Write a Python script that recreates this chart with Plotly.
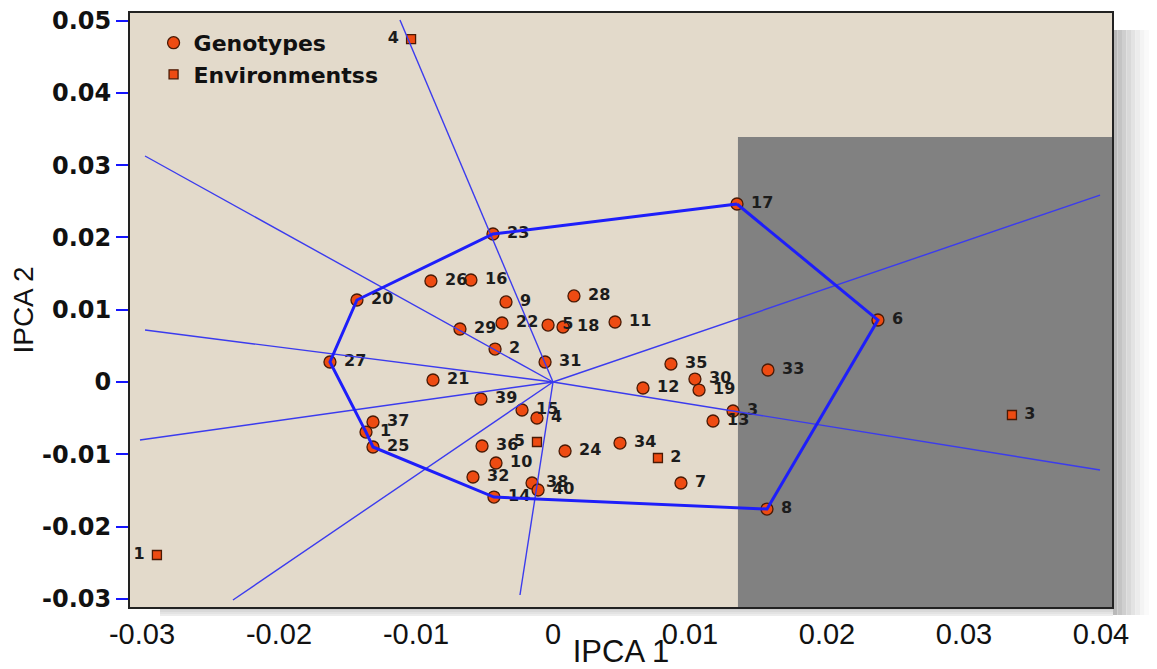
import plotly.graph_objects as go

# ---------------- data ----------------
geno_labels = ["17", "23", "6", "20", "26", "16", "9", "28", "29", "22",
               "5", "18", "11", "2", "27", "31", "35", "33", "21", "30",
               "12", "19", "39", "3", "15", "4", "13", "37", "1", "25",
               "36", "24", "34", "10", "32", "7", "38", "40", "14", "8"]
geno_x = [0.01343, -0.00438, 0.02372, -0.01431, -0.00891, -0.00599, -0.00343, 0.00153, -0.00679, -0.00372,
          -0.00036, 0.00073, 0.00453, -0.00423, -0.01628, -0.00058, 0.00861, 0.01569, -0.00876, 0.01036,
          0.00657, 0.01066, -0.00526, 0.01314, -0.00226, -0.00117, 0.01168, -0.01314, -0.01365, -0.01314,
          -0.00518, 0.00088, 0.00489, -0.00416, -0.00584, 0.00934, -0.00153, -0.00109, -0.00431, 0.01562]
geno_y = [0.02462, 0.02047, 0.00858, 0.01134, 0.01397, 0.01411, 0.01107, 0.01190, 0.00733, 0.00816,
          0.00788, 0.00761, 0.00830, 0.00456, 0.00277, 0.00277, 0.00249, 0.00166, 0.00028, 0.00041,
          -0.00083, -0.00111, -0.00235, -0.00401, -0.00387, -0.00498, -0.00539, -0.00553, -0.00692, -0.00899,
          -0.00885, -0.00954, -0.00844, -0.01120, -0.01314, -0.01397, -0.01397, -0.01494, -0.01591, -0.01757]

env_labels = ["1", "2", "3", "4", "5"]
env_x = [-0.02891, 0.00766, 0.03350, -0.01036, -0.00117]
env_y = [-0.02393, -0.01051, -0.00456, 0.04744, -0.00830]

# polygon (convex hull) vertices, by genotype label
hull_labels = ["17", "6", "8", "14", "25", "1", "27", "20", "23", "17"]

# end points of the rays drawn from the origin
ray_end_x = [-0.01117, -0.02978, -0.02978, -0.03015, -0.02336, -0.00241, 0.03993, 0.03993]
ray_end_y = [0.05007, 0.03126, 0.00719, -0.00802, -0.03015, -0.02946, -0.01217, 0.02586]

# shaded region (lower-left corner of the grey box)
shade_x0 = 0.0135
shade_y1 = 0.0339

x_tick_vals = [-0.03, -0.02, -0.01, 0, 0.01, 0.02, 0.03, 0.04]
x_tick_text = ["-0.03", "-0.02", "-0.01", "0", "0.01", "0.02", "0.03", "0.04"]
y_tick_vals = [-0.03, -0.02, -0.01, 0, 0.01, 0.02, 0.03, 0.04, 0.05]
y_tick_text = ["-0.03", "-0.02", "-0.01", "0", "0.01", "0.02", "0.03", "0.04", "0.05"]

x_range = [-0.030876, 0.040803]
y_range = [-0.03112, 0.05104]

# ---------------- styling ----------------
ORANGE = "#EE4B12"
EDGE = "#4A1A05"
RAY_BLUE = "#3B3BEE"
HULL_BLUE = "#1E1EFA"
BOLD = "DejaVu Sans"
PAD = "\u00a0"

env_textpos = ["middle left", "middle right", "middle right", "middle left", "middle left"]
env_text = [(l + PAD) if p == "middle left" else (PAD + l) for l, p in zip(env_labels, env_textpos)]

fig = go.Figure()

fig.add_trace(go.Scatter(
    x=geno_x, y=geno_y, mode="markers+text", name="Genotypes",
    text=[PAD + l for l in geno_labels], textposition="middle right",
    textfont=dict(family=BOLD, size=16, color="#1c1c1c", weight="bold"),
    marker=dict(symbol="circle", size=12, color=ORANGE, line=dict(color=EDGE, width=1.3)),
    cliponaxis=False,
))

fig.add_trace(go.Scatter(
    x=env_x, y=env_y, mode="markers+text", name="Environmentss",
    text=env_text, textposition=env_textpos,
    textfont=dict(family=BOLD, size=16, color="#1c1c1c", weight="bold"),
    marker=dict(symbol="square", size=9, color=ORANGE, line=dict(color=EDGE, width=1.3)),
    cliponaxis=False,
))

# rays
rx, ry = [], []
for ex, ey in zip(ray_end_x, ray_end_y):
    rx += [0, ex, None]
    ry += [0, ey, None]
fig.add_trace(go.Scatter(x=rx, y=ry, mode="lines", showlegend=False,
                         line=dict(color=RAY_BLUE, width=1.4), hoverinfo="skip"))

# hull polygon
lookup = {lab: (gx, gy) for lab, gx, gy in zip(geno_labels, geno_x, geno_y)}
hx = [lookup[l][0] for l in hull_labels]
hy = [lookup[l][1] for l in hull_labels]
fig.add_trace(go.Scatter(x=hx, y=hy, mode="lines", showlegend=False,
                         line=dict(color=HULL_BLUE, width=3), hoverinfo="skip"))

shapes = [
    dict(type="rect", xref="x", yref="y", x0=shade_x0, x1=x_range[1], y0=y_range[0], y1=shade_y1,
         fillcolor="#818181", line=dict(width=0), layer="below"),
]
# drop shadow to the right of / below the frame
shadow_cols = ["#b9b9b9", "#c4c4c4", "#cfcfcf", "#d9d9d9", "#e3e3e3", "#ececec", "#f4f4f4", "#fafafa"]
pw, ph = 982.0, 594.0
for i, c in enumerate(shadow_cols):
    shapes.append(dict(type="rect", xref="paper", yref="paper",
                       x0=1 + (1 + 4.5 * i) / pw, x1=1 + (1 + 4.5 * (i + 1)) / pw,
                       y0=-8 / ph, y1=1 - 17 / ph,
                       fillcolor=c, line=dict(width=0), layer="below"))
for i, c in enumerate(shadow_cols[2:6]):
    shapes.append(dict(type="rect", xref="paper", yref="paper",
                       x0=30 / pw, x1=1 + 1 / pw,
                       y0=-(1 + 2 * (i + 1)) / ph, y1=-(1 + 2 * i) / ph,
                       fillcolor=c, line=dict(width=0), layer="below"))

# the page body adds an 8px offset, so the figure is 8px smaller with 8px less left/top margin
fig.update_layout(
    width=1149, height=661,
    margin=dict(l=122, r=45, t=5, b=62, autoexpand=False),
    paper_bgcolor="white",
    plot_bgcolor="#E3DACB",
    shapes=shapes,
    showlegend=True,
    legend=dict(x=0.024, y=0.985, xanchor="left", yanchor="top",
                bgcolor="rgba(0,0,0,0)", borderwidth=0,
                font=dict(family=BOLD, size=22, color="#111", weight="bold"),
                tracegroupgap=2, itemwidth=30),
    xaxis=dict(range=x_range, tickvals=x_tick_vals, ticktext=x_tick_text,
               showgrid=False, zeroline=False, showline=True, mirror=True,
               linecolor="#222", linewidth=2, ticks="",
               tickfont=dict(family="Liberation Sans", size=29, color="#111"),
               title=dict(text="IPCA 1", standoff=0,
                          font=dict(family="Liberation Sans", size=31, color="#111"))),
    yaxis=dict(range=y_range, tickvals=y_tick_vals, ticktext=y_tick_text,
               showgrid=False, zeroline=False, showline=True, mirror=True,
               linecolor="#222", linewidth=2,
               ticks="outside", ticklen=12, tickwidth=2, tickcolor="#1515FF",
               ticklabeloverflow="allow",
               tickfont=dict(family=BOLD, size=24, color="#111", weight="bold"),
               title=dict(text="IPCA 2", standoff=6,
                          font=dict(family="Liberation Sans", size=28, color="#111"))),
)

fig.write_html("out.html")
